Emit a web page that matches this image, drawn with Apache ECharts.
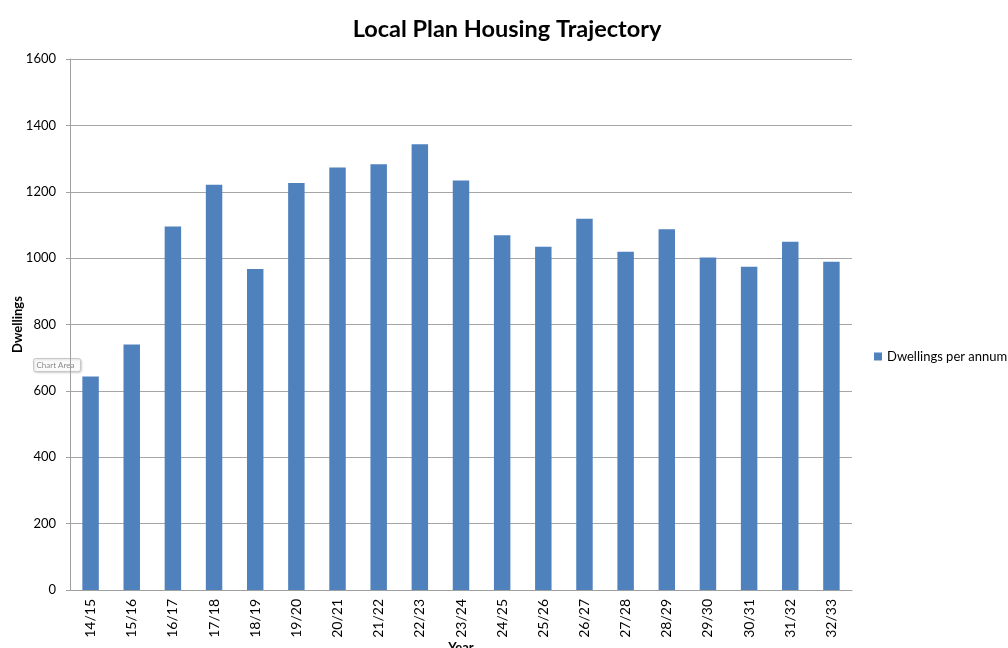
<!DOCTYPE html>
<html>
<head>
<meta charset="utf-8">
<script src="https://cdn.jsdelivr.net/npm/echarts@6/dist/echarts.min.js"></script>
<style>html,body{margin:0;padding:0;background:#fff;}#c{width:1008px;height:648px;}</style>
</head>
<body>
<div id="c"></div>
<script>
const categories = ['14/15','15/16','16/17','17/18','18/19','19/20','20/21','21/22','22/23','23/24','24/25','25/26','26/27','27/28','28/29','29/30','30/31','31/32','32/33'];
const dwellings = [643, 740, 1095, 1221, 967, 1226, 1273, 1283, 1343, 1234, 1069, 1034, 1119, 1019, 1087, 1002, 974, 1049, 989];
const yTicks = [0, 200, 400, 600, 800, 1000, 1200, 1400, 1600];

const FONT = 'Lato, "Open Sans", sans-serif';
const chart = echarts.init(document.getElementById('c'), null, {renderer: 'canvas'});
chart.setOption({
  animation: false,
  backgroundColor: '#ffffff',
  title: {
    text: 'Local Plan Housing Trajectory',
    left: 502, top: 12, textAlign: 'center',
    textStyle: {fontFamily: FONT, fontWeight: 'bold', fontSize: 23.5, color: '#000'}
  },
  legend: {
    data: ['Dwellings per annum'],
    left: 874, top: 350,
    icon: 'rect', itemWidth: 8, itemHeight: 8, itemGap: 2,
    padding: 0,
    textStyle: {fontFamily: FONT, fontSize: 13, color: '#000', padding: [0,0,0,0]}
  },
  grid: {left: 70, right: 156, top: 59, bottom: 58, containLabel: false, outerBoundsMode: 'none'},
  xAxis: {
    type: 'category',
    data: categories,
    name: 'Year',
    nameLocation: 'middle',
    nameGap: 51,
    nameMoveOverlap: false,
    nameTextStyle: {fontFamily: FONT, fontWeight: 'bold', fontSize: 13, color: '#000'},
    axisLine: {lineStyle: {color: '#a0a0a0', width: 1}},
    axisTick: {show: false},
    axisLabel: {rotate: 90, fontFamily: FONT, fontSize: 14, color: '#000', margin: 9}
  },
  yAxis: {
    type: 'value',
    min: yTicks[0], max: yTicks[yTicks.length - 1], interval: 200,
    name: 'Dwellings',
    nameLocation: 'middle',
    nameGap: 46,
    nameMoveOverlap: false,
    nameRotate: 90,
    nameTextStyle: {fontFamily: FONT, fontWeight: 'bold', fontSize: 13, color: '#000'},
    axisLine: {show: true, lineStyle: {color: '#a0a0a0', width: 1}},
    axisTick: {show: true, length: 4, lineStyle: {color: '#a0a0a0'}},
    splitLine: {lineStyle: {color: '#a6a6a6', width: 1}},
    axisLabel: {fontFamily: FONT, fontSize: 13, color: '#000', margin: 14, formatter: v => String(v)}
  },
  series: [{
    name: 'Dwellings per annum',
    type: 'bar',
    data: dwellings,
    barWidth: '40%',
    itemStyle: {color: '#4f81bd'}
  }],
  graphic: [{
    type: 'group', left: 33, top: 358,
    children: [
      {type: 'rect', shape: {x: 0, y: 0, width: 47, height: 13, r: 2}, style: {fill: '#fbfbfb', stroke: '#c8c8c8', lineWidth: 1, shadowBlur: 2, shadowColor: 'rgba(0,0,0,0.15)', shadowOffsetX: 1, shadowOffsetY: 1}},
      {type: 'text', style: {x: 3, y: 2.5, text: 'Chart Area', fontFamily: FONT, fontSize: 8, fill: '#8a8a8a'}}
    ]
  }]
});
</script>
</body>
</html>
